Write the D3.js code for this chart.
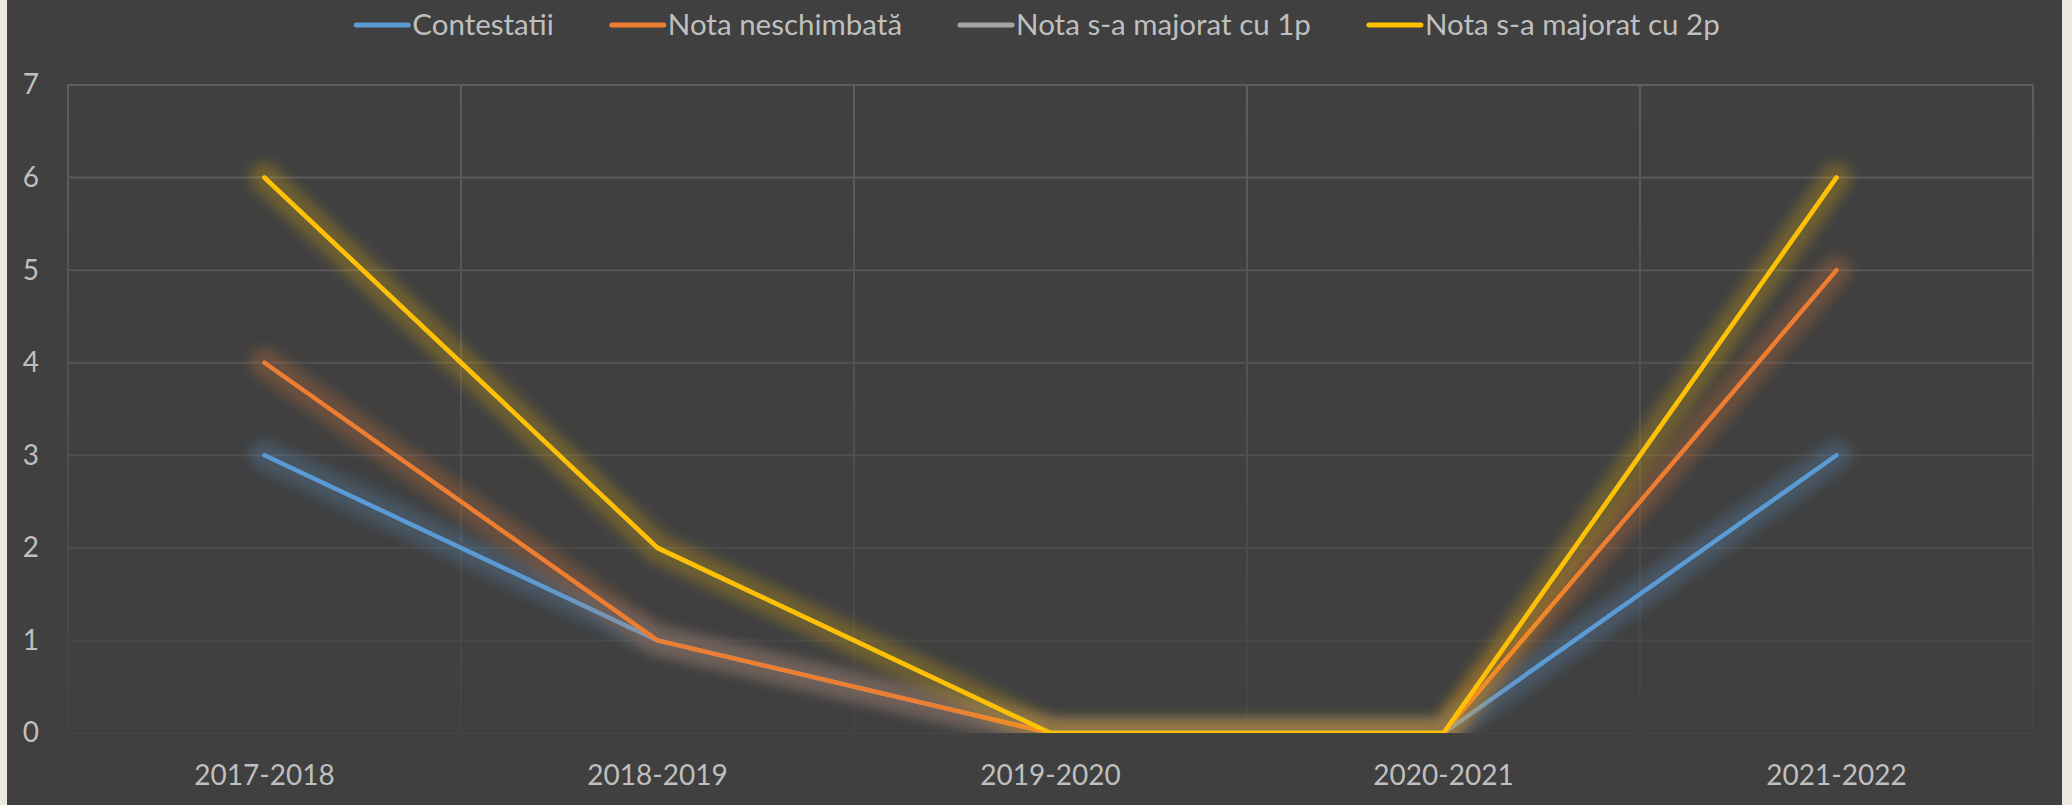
<!DOCTYPE html>
<html>
<head>
<meta charset="utf-8">
<script src="https://cdn.jsdelivr.net/npm/d3@7/dist/d3.min.js"></script>
<style>
  body { margin: 0; background: #eee9df; }
  svg { display: block; }
  text { font-family: Lato, "Open Sans", sans-serif; fill: #bfbfbf; }
</style>
</head>
<body>
<script>
var categories = ["2017-2018", "2018-2019", "2019-2020", "2020-2021", "2021-2022"];
var seriesNames = ["Contestatii", "Nota neschimbată", "Nota s-a majorat cu 1p", "Nota s-a majorat cu 2p"];
var contestatii = [3, 1, 0, 0, 3];
var neschimbata = [4, 1, 0, 0, 5];
var majorat1p = [6, 2, 0, 0, 6];
var majorat2p = [6, 2, 0, 0, 6];
var yTicks = [0, 1, 2, 3, 4, 5, 6, 7];
var colors = ["#5b9bd5", "#ed7d31", "#a5a5a5", "#ffc000"];

var width = 2072, height = 805;
var plotLeft = 68, plotRight = 2033, plotTop = 85, plotBottom = 733;

var svg = d3.select("body").append("svg").attr("width", width).attr("height", height);

// dark chart background, light strips left and right stay visible
svg.append("rect").attr("x", 7).attr("y", 0).attr("width", 2055).attr("height", height).attr("fill", "#404040");

var defs = svg.append("defs");
defs.append("clipPath").attr("id", "plotclip")
  .append("rect").attr("x", plotLeft).attr("y", plotTop)
  .attr("width", plotRight - plotLeft).attr("height", plotBottom - plotTop);
defs.append("filter").attr("id", "glow").attr("x", "-20%").attr("y", "-20%").attr("width", "140%").attr("height", "140%")
  .append("feGaussianBlur").attr("stdDeviation", 6);
var grad = defs.append("linearGradient").attr("id", "vgrid")
  .attr("gradientUnits", "userSpaceOnUse").attr("x1", 0).attr("x2", 0).attr("y1", plotTop).attr("y2", plotBottom);
grad.append("stop").attr("offset", "0%").attr("stop-color", "#5e5e5e");
grad.append("stop").attr("offset", "100%").attr("stop-color", "#434343");

var xScale = d3.scaleBand().domain(categories).range([plotLeft, plotRight]).paddingInner(0).paddingOuter(0);
var yScale = d3.scaleLinear().domain([0, 7]).range([plotBottom, plotTop]);
var gridColor = d3.scaleLinear().domain([plotTop, plotBottom]).range(["#5e5e5e", "#444444"]);

// horizontal gridlines
svg.append("g").selectAll("line").data(yTicks).enter().append("line")
  .attr("x1", plotLeft).attr("x2", plotRight)
  .attr("y1", function(d) { return yScale(d); })
  .attr("y2", function(d) { return yScale(d); })
  .attr("stroke", function(d) { return gridColor(yScale(d)); })
  .attr("stroke-width", 2);

// vertical gridlines at category boundaries
var bounds = categories.map(function(c) { return xScale(c); }).concat([plotRight]);
svg.append("g").selectAll("line").data(bounds).enter().append("line")
  .attr("x1", function(d) { return d; }).attr("x2", function(d) { return d; })
  .attr("y1", plotTop).attr("y2", plotBottom)
  .attr("stroke", "url(#vgrid)")
  .attr("stroke-width", 2);

var axisy = d3.axisLeft(yScale).tickValues(yTicks).tickSize(0).tickPadding(29).tickFormat(d3.format("d"));
var gy = svg.append("g").attr("transform", "translate(" + plotLeft + ",0)").call(axisy);
gy.select(".domain").remove();
gy.selectAll("text").attr("font-size", 28).attr("font-family", null).attr("fill", "#bfbfbf");

var axisx = d3.axisBottom(xScale).tickSize(0).tickPadding(32);
var gx = svg.append("g").attr("transform", "translate(0," + plotBottom + ")").call(axisx);
gx.select(".domain").remove();
gx.selectAll("text").attr("font-size", 28).attr("font-family", null).attr("fill", "#bfbfbf");

var series = [contestatii, neschimbata, majorat1p, majorat2p];
var line = d3.line()
  .x(function(d, i) { return xScale(categories[i]) + xScale.bandwidth() / 2; })
  .y(function(d) { return yScale(d); });

var plot = svg.append("g").attr("clip-path", "url(#plotclip)");
series.forEach(function(vals, k) {
  // the 1p series sits exactly under the 2p one, so its glow is left out
  if (k !== 2) {
    plot.append("path").datum(vals)
      .attr("d", line)
      .attr("fill", "none")
      .attr("stroke", colors[k])
      .attr("stroke-opacity", 0.24)
      .attr("stroke-width", 30)
      .attr("stroke-linejoin", "round")
      .attr("stroke-linecap", "round")
      .attr("filter", "url(#glow)");
  }
  plot.append("path").datum(vals)
    .attr("d", line)
    .attr("fill", "none")
    .attr("stroke", colors[k])
    .attr("stroke-width", 4.5)
    .attr("stroke-linejoin", "round")
    .attr("stroke-linecap", "round");
});

// legend, centred above the plot
var legend = svg.append("g");
var lx = 0;
seriesNames.forEach(function(name, k) {
  var g = legend.append("g").attr("transform", "translate(" + lx + ",0)");
  g.append("line").attr("x1", 2).attr("x2", 54).attr("y1", 25).attr("y2", 25)
    .attr("stroke", colors[k]).attr("stroke-width", 5).attr("stroke-linecap", "round");
  var t = g.append("text").attr("x", 58).attr("y", 25).attr("dy", "0.35em")
    .attr("font-size", 29.5).text(name);
  lx += 58 + t.node().getComputedTextLength() + 56;
});
lx -= 56;
legend.attr("transform", "translate(" + (1037 - lx / 2) + ",0)");
</script>
</body>
</html>
